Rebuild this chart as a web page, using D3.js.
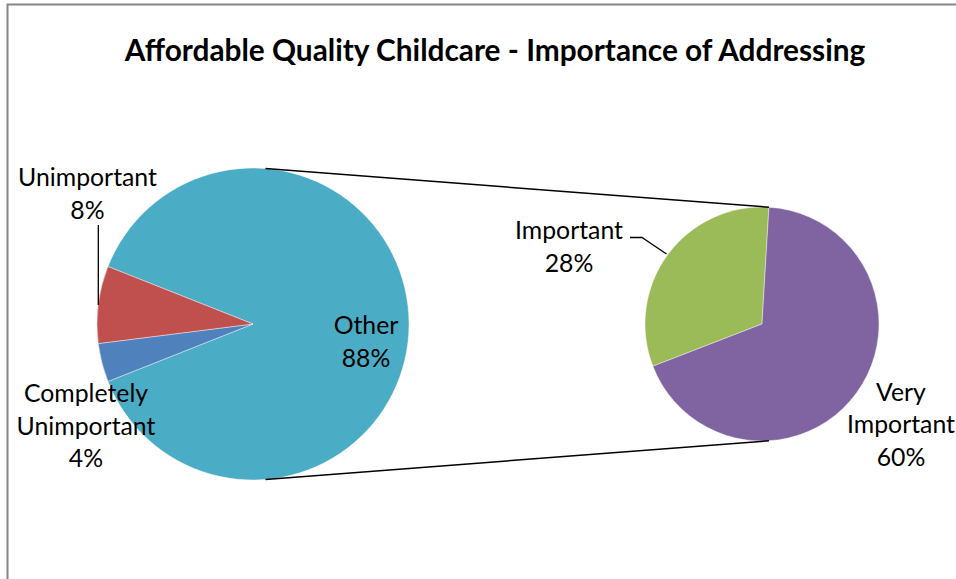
<!DOCTYPE html>
<html>
<head>
<meta charset="utf-8">
<script src="https://cdn.jsdelivr.net/npm/d3@7"></script>
<style>
  html, body { margin: 0; padding: 0; background: #fff; }
  svg { display: block; }
  text { font-family: Lato, "Open Sans", sans-serif; fill: #000; }
</style>
</head>
<body>
<svg id="chart" width="956" height="579"></svg>
<script>
// ---- data ----
const title = "Affordable Quality Childcare - Importance of Addressing";
const primaryCategories = ["Other", "Completely Unimportant", "Unimportant"];
const primaryValues = [88, 4, 8];
const secondaryCategories = ["Important", "Very Important"];
const secondaryValues = [28, 60];
const colors = {
  "Other": "#4BACC6",
  "Completely Unimportant": "#4F81BD",
  "Unimportant": "#C0504D",
  "Important": "#9BBB59",
  "Very Important": "#8064A2"
};

// ---- layout ----
const W = 956, H = 579;
const svg = d3.select("#chart");
const deg = Math.PI / 180;

const left = { cx: 253, cy: 324, r: 156, connAngle: 4.6 * deg };
const right = { cx: 762, cy: 324, r: 117, connAngle: 3.4 * deg };

// chart border
svg.append("path")
  .attr("d", `M7.5,${H} L7.5,4.5 L${W},4.5`)
  .attr("fill", "none").attr("stroke", "#868686").attr("stroke-width", 2);

// title
svg.append("text")
  .attr("x", 495).attr("y", 61)
  .attr("text-anchor", "middle")
  .attr("font-weight", "bold")
  .attr("font-size", 29.8)
  .text(title);

// primary pie: "Other" centered at 3 o'clock
const total1 = d3.sum(primaryValues);
const otherFrac = primaryValues[0] / total1;
const pie1 = d3.pie().sort(null).value(d => d.v)
  .startAngle(Math.PI / 2 - otherFrac * Math.PI)
  .endAngle(Math.PI / 2 - otherFrac * Math.PI + 2 * Math.PI);
const arcs1 = pie1(primaryCategories.map((c, i) => ({ c, v: primaryValues[i] })));
const arc1 = d3.arc().innerRadius(0).outerRadius(left.r);

const g1 = svg.append("g").attr("transform", `translate(${left.cx},${left.cy})`);
g1.selectAll("path").data(arcs1).join("path")
  .attr("d", arc1)
  .attr("fill", d => colors[d.data.c])
  .attr("stroke", "#ffffff").attr("stroke-opacity", 0.6).attr("stroke-width", 0.7);

// secondary pie: first slice ends at connector angle
const total2 = d3.sum(secondaryValues);
const start2 = right.connAngle - 2 * Math.PI * secondaryValues[0] / total2;
const pie2 = d3.pie().sort(null).value(d => d.v)
  .startAngle(start2).endAngle(start2 + 2 * Math.PI);
const arcs2 = pie2(secondaryCategories.map((c, i) => ({ c, v: secondaryValues[i] })));
const arc2 = d3.arc().innerRadius(0).outerRadius(right.r);

const g2 = svg.append("g").attr("transform", `translate(${right.cx},${right.cy})`);
g2.selectAll("path").data(arcs2).join("path")
  .attr("d", arc2)
  .attr("fill", d => colors[d.data.c])
  .attr("stroke", "#ffffff").attr("stroke-opacity", 0.6).attr("stroke-width", 0.7);

// connector lines
function pt(p, a, sign) {
  return [p.cx + p.r * Math.sin(a), p.cy - sign * p.r * Math.cos(a)];
}
[1, -1].forEach(sign => {
  const a = pt(left, left.connAngle, sign);
  const b = pt(right, right.connAngle, sign);
  svg.append("line")
    .attr("x1", a[0]).attr("y1", a[1]).attr("x2", b[0]).attr("y2", b[1])
    .attr("stroke", "#000").attr("stroke-width", 1.5);
});

// leader lines
svg.append("path").attr("d", "M98.3,225 L98.3,305")
  .attr("fill", "none").attr("stroke", "#000").attr("stroke-width", 1.3);
svg.append("path").attr("d", "M630,237.5 L642,237.5 L666.5,254")
  .attr("fill", "none").attr("stroke", "#000").attr("stroke-width", 1.3);

// data labels
const pct = (v) => Math.round(v) + "%";
const labelLayout = {
  "Unimportant": { x: 87.5, y: 186, lines: ["Unimportant"] },
  "Completely Unimportant": { x: 86, y: 402, lines: ["Completely", "Unimportant"] },
  "Other": { x: 366, y: 334, lines: ["Other"] },
  "Important": { x: 569, y: 239, lines: ["Important"] },
  "Very Important": { x: 901, y: 400.5, lines: ["Very", "Important"] }
};
const allLabels = [
  ...primaryCategories.map((c, i) => ({ c, v: primaryValues[i] })),
  ...secondaryCategories.map((c, i) => ({ c, v: secondaryValues[i] }))
];
const lineH = 32.5;
allLabels.forEach(d => {
  const L = labelLayout[d.c];
  const t = svg.append("text")
    .attr("text-anchor", "middle")
    .attr("font-size", 24.8);
  const lines = [...L.lines, pct(d.v)];
  lines.forEach((s, i) => {
    t.append("tspan").attr("x", L.x).attr("y", L.y + i * lineH).text(s);
  });
});
</script>
</body>
</html>
